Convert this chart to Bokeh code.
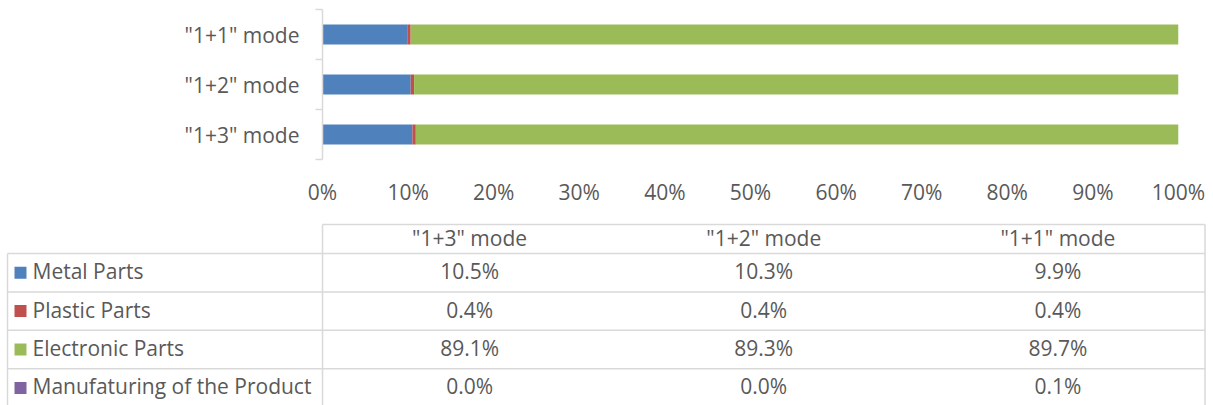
import numpy as np
from bokeh.plotting import figure
from bokeh.models import FixedTicker, NumeralTickFormatter, Range1d
from bokeh.core.properties import value
from bokeh.embed import file_html
from bokeh.resources import INLINE

# ---------------- data ----------------
categories = ['"1+3" mode', '"1+2" mode', '"1+1" mode']
series_names = ["Metal Parts", "Plastic Parts", "Electronic Parts", "Manufaturing of the Product"]
metal = [10.5, 10.3, 9.9]
plastic = [0.4, 0.4, 0.4]
electronic = [89.1, 89.3, 89.7]
manufacturing = [0.0, 0.0, 0.1]
x_ticks = [0, 10, 20, 30, 40, 50, 60, 70, 80, 90, 100]

colors = ["#4F81BD", "#C0504D", "#9BBB59", "#8064A2"]
TXT = "#595959"
GRID = "#D9D9D9"
FONT = "Open Sans"
FS = "21px"

series = [metal, plastic, electronic, manufacturing]

# ---------------- bar chart ----------------
W = 1206
H1 = 215
p1 = figure(width=W, height=H1, x_range=Range1d(0, 1), y_range=Range1d(0, 3),
            output_backend="svg", toolbar_location=None,
            min_border_left=322, min_border_right=28, min_border_top=9, min_border_bottom=56)
p1.outline_line_color = None
p1.grid.visible = False

ypos = np.arange(len(categories)) + 0.5
left = np.zeros(len(categories))
for vals, col in zip(series, colors):
    v = np.array(vals) / 100.0
    p1.hbar(y=ypos, left=left, right=left + v, height=0.4, fill_color=col, line_color=None)
    left = left + v

xa = p1.xaxis[0]
xa.ticker = FixedTicker(ticks=[t / 100 for t in x_ticks])
xa.formatter = NumeralTickFormatter(format="0%")
xa.axis_line_color = None
xa.major_tick_line_color = None
xa.minor_tick_line_color = None
xa.major_label_standoff = 12
xa.major_label_text_color = TXT
xa.major_label_text_font = FONT
xa.major_label_text_font_size = FS

ya = p1.yaxis[0]
ya.ticker = FixedTicker(ticks=list(ypos), minor_ticks=list(range(len(categories) + 1)))
ya.major_label_overrides = {float(y): c for y, c in zip(ypos, categories)}
ya.axis_line_color = GRID
ya.axis_line_width = 1.5
ya.major_tick_line_color = None
ya.major_tick_out = 0
ya.major_tick_in = 0
ya.minor_tick_line_color = GRID
ya.minor_tick_line_width = 1.5
ya.minor_tick_out = 7
ya.minor_tick_in = 0
ya.major_label_standoff = 16
ya.major_label_text_color = TXT
ya.major_label_text_font = FONT
ya.major_label_text_font_size = FS

# ---------------- data table ----------------
H2 = 190
p2 = figure(width=W, height=H2, x_range=Range1d(0, W), y_range=Range1d(H2, 0),
            output_backend="svg", toolbar_location=None,
            x_axis_type=None, y_axis_type=None,
            min_border=0, min_border_left=0, min_border_right=0,
            min_border_top=0, min_border_bottom=0)
p2.outline_line_color = None
p2.grid.visible = False

col_left = 322
col_right = 1204.5
tbl_left = 7
head_top = 9
row_h = 38.4
head_bottom = 38
n_rows = len(series_names)
row_lines = [head_bottom + i * row_h for i in range(n_rows)]

p2.segment(x0=[col_left], y0=[head_top], x1=[col_right], y1=[head_top], line_color=GRID, line_width=1.5)
p2.segment(x0=[tbl_left] * len(row_lines), y0=row_lines, x1=[col_right] * len(row_lines), y1=row_lines,
           line_color=GRID, line_width=1.5)
p2.segment(x0=[col_left, col_right], y0=[head_top, head_top], x1=[col_left, col_right], y1=[H2 + 10, H2 + 10],
           line_color=GRID, line_width=1.5)
p2.segment(x0=[tbl_left], y0=[head_bottom], x1=[tbl_left], y1=[H2 + 10], line_color=GRID, line_width=1.5)

col_w = (col_right - col_left) / len(categories)
col_centers = [col_left + col_w * (i + 0.5) for i in range(len(categories))]

p2.text(x=col_centers, y=[(head_top + head_bottom) / 2 - 1] * len(categories), text=categories,
        text_align="center", text_baseline="middle", text_color=TXT,
        text_font=value(FONT), text_font_size=FS)

row_centers = [head_bottom + row_h * (i + 0.5) for i in range(n_rows)]
text_y = [y - 1.5 for y in row_centers]
p2.rect(x=[20] * n_rows, y=row_centers, width=12, height=12, fill_color=colors, line_color=None)
p2.text(x=[32] * n_rows, y=text_y, text=series_names, text_align="left", text_baseline="middle",
        text_color=TXT, text_font=value(FONT), text_font_size=FS)

xs, ys, ts = [], [], []
for r, vals in enumerate(series):
    for c, v in enumerate(vals):
        xs.append(col_centers[c])
        ys.append(text_y[r])
        ts.append(f"{v:.1f}%")
p2.text(x=xs, y=ys, text=ts, text_align="center", text_baseline="middle", text_color=TXT,
        text_font=value(FONT), text_font_size=FS)

open("out.html", "w").write(file_html([p1, p2], INLINE))
